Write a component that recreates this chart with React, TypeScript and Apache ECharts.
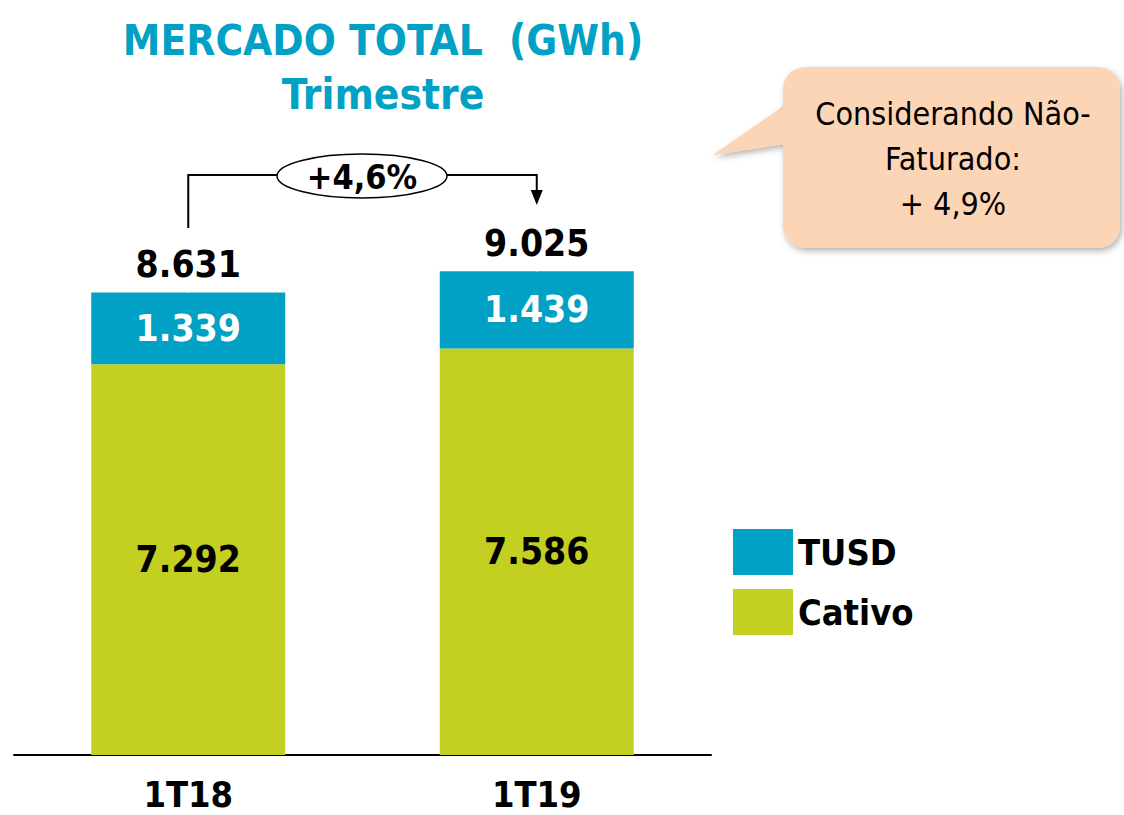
import React, { useEffect, useRef } from "react";
import * as echarts from "echarts";

const categories = ["1T18", "1T19"];
const cativo = [7292, 7586];
const tusd = [1339, 1439];
const totals = [8631, 9025];
const growthLabel = "+4,6%";
const calloutLines = ["Considerando Não-", "Faturado:", "+ 4,9%"];

const TEAL = "#00A1C4";
const GREEN = "#C3CF21";
const FONT = "DejaVu Sans Condensed";

const fmt = (v: number) => String(v).replace(/\B(?=(\d{3})+(?!\d))/g, ".");

export default function App() {
  const ref = useRef<HTMLDivElement>(null);
  useEffect(() => {
    if (!ref.current) return;
    const chart = echarts.init(ref.current, null, { renderer: "svg" });
    const numLabel = {
      fontFamily: FONT,
      fontWeight: "bold",
      fontSize: 37,
    };
    chart.setOption({
      animation: false,
      backgroundColor: "#ffffff",
      title: {
        text: "MERCADO TOTAL  (GWh)",
        subtext: "Trimestre",
        left: 378,
        textAlign: "center",
        top: 14,
        itemGap: 12,
        textStyle: { color: TEAL, fontFamily: FONT, fontWeight: "bold", fontSize: 42 },
        subtextStyle: { color: TEAL, fontFamily: FONT, fontWeight: "bold", fontSize: 42 },
      },
      legend: {
        orient: "vertical",
        left: 728,
        top: 524,
        icon: "rect",
        itemWidth: 60,
        itemHeight: 46,
        itemGap: 14,
        data: ["TUSD", "Cativo"],
        textStyle: { fontFamily: FONT, fontWeight: "bold", fontSize: 36, color: "#000" },
        selectedMode: false,
      },
      grid: { left: 14, right: 413, top: 219, bottom: 60 },
      xAxis: {
        type: "category",
        data: categories,
        axisLine: { lineStyle: { color: "#000", width: 2 } },
        axisTick: { show: false },
        axisLabel: {
          margin: 21,
          color: "#000",
          fontFamily: FONT,
          fontWeight: "bold",
          fontSize: 36,
          lineHeight: 36,
        },
      },
      yAxis: { type: "value", min: 0, max: 10000, show: false, splitLine: { show: false } },
      series: [
        {
          name: "Cativo",
          type: "bar",
          stack: "total",
          barWidth: 194,
          data: cativo,
          itemStyle: { color: GREEN },
          label: {
            show: true,
            position: "inside",
            formatter: (p: any) => fmt(p.value),
            color: "#000",
            ...numLabel,
          },
        },
        {
          name: "TUSD",
          type: "bar",
          stack: "total",
          barWidth: 194,
          data: tusd,
          itemStyle: { color: TEAL },
          label: {
            show: true,
            position: "inside",
            formatter: (p: any) => fmt(p.value),
            color: "#fff",
            ...numLabel,
          },
        },
        {
          name: "Total",
          type: "scatter",
          data: totals,
          symbol: "rect",
          symbolSize: [1, 1],
          itemStyle: { color: "#ffffff" },
          label: {
            show: true,
            position: "top",
            distance: 9,
            formatter: (p: any) => fmt(p.value),
            color: "#000000",
            opacity: 1,
            ...numLabel,
          },
        },
      ],
    });

    const x1 = chart.convertToPixel({ xAxisIndex: 0 }, categories[0]) as number;
    const x2 = chart.convertToPixel({ xAxisIndex: 0 }, categories[1]) as number;
    const yLine = 175;
    const ex = 362;
    const shadow = {
      shadowBlur: 6,
      shadowColor: "rgba(0,0,0,0.3)",
      shadowOffsetX: 2,
      shadowOffsetY: 3,
    };
    chart.setOption({
      graphic: [
        {
          type: "polyline",
          shape: { points: [[x1, 228], [x1, yLine], [x2, yLine], [x2, 192]] },
          style: { stroke: "#000", lineWidth: 2, fill: "none" },
        },
        {
          type: "polygon",
          shape: { points: [[x2 - 6, 190], [x2 + 6, 190], [x2, 205]] },
          style: { fill: "#000" },
        },
        {
          type: "ellipse",
          shape: { cx: ex, cy: 176, rx: 85, ry: 22 },
          style: { fill: "#fff", stroke: "#000", lineWidth: 1.5 },
        },
        {
          type: "text",
          x: ex,
          y: 177,
          style: {
            text: growthLabel,
            fill: "#000",
            font: `bold 34px "${FONT}"`,
            align: "center",
            verticalAlign: "middle",
          },
        },
        {
          type: "group",
          children: [
            {
              type: "polygon",
              shape: { points: [[713, 155], [795, 98], [795, 142]] },
              style: { fill: "#FBD5B6", ...shadow },
            },
            {
              type: "rect",
              shape: { x: 783, y: 67, width: 337, height: 181, r: 22 },
              style: { fill: "#FBD5B6", ...shadow },
            },
            {
              type: "polygon",
              shape: { points: [[713, 155], [800, 98], [800, 142]] },
              style: { fill: "#FBD5B6" },
            },
            ...calloutLines.map((t, i) => ({
              type: "text",
              x: 953,
              y: 114 + i * 45,
              style: {
                text: t,
                fill: "#000",
                font: `32px "${FONT}"`,
                align: "center",
                verticalAlign: "middle",
              },
            })),
          ],
        },
      ],
    });
    return () => chart.dispose();
  }, []);
  return (
    <div
      ref={ref}
      style={{ position: "absolute", left: 0, top: 0, width: 1124, height: 815 }}
    />
  );
}
